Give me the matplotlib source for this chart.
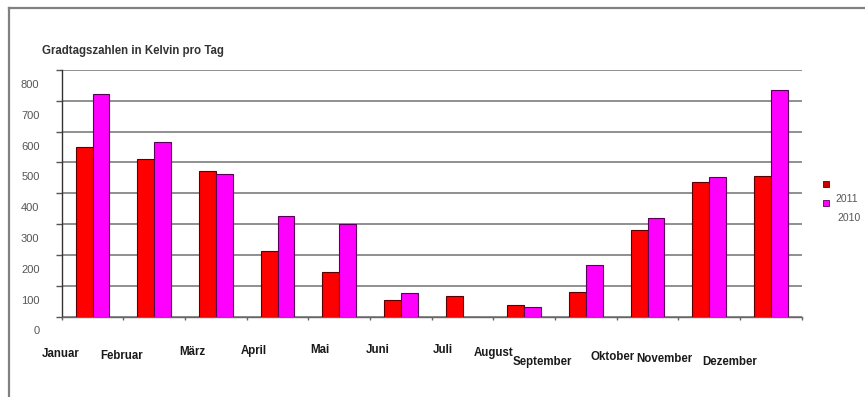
import numpy as np
import matplotlib
matplotlib.use("Agg")
import matplotlib.pyplot as plt
import matplotlib.transforms as mtransforms
from matplotlib.lines import Line2D
from matplotlib.patches import Rectangle

plt.rcParams['font.family'] = ['Liberation Sans', 'DejaVu Sans']

# data
months = ["Januar", "Februar", "März", "April", "Mai", "Juni", "Juli",
          "August", "September", "Oktober", "November", "Dezember"]
vals_2011 = [550, 512, 471, 211, 143, 54, 67, 36, 81, 281, 438, 457]
vals_2010 = [722, 565, 462, 325, 300, 76, 0, 32, 168, 320, 453, 734]
yticks = [0, 100, 200, 300, 400, 500, 600, 700, 800]

# label placement (category units relative to left boundary, pixel rows)
lab_dx = [-0.01, -0.03, 0.12, 0.12, 0.18, 0.13, 0.18, 0.0, -0.21, -0.06, -0.23, -0.17]
lab_y = [354, 356, 352, 351, 350, 350, 350, 353, 362, 357, 359, 362]

W, H = 865, 397
fig = plt.figure(figsize=(W/100, H/100), dpi=100)
ax = fig.add_axes([61.7/W, (H-316.5)/H, 740/W, 246.5/H])

x = np.arange(len(months))
bw = 0.275
ax.bar(x - bw/2, vals_2011, bw, color='#ff0000', edgecolor='#5a0000', linewidth=0.8, zorder=3)
ax.bar(x + bw/2, vals_2010, bw, color='#ff00ff', edgecolor='#5a005a', linewidth=0.8, zorder=3)

ax.set_xlim(-0.5, len(months) - 0.5)
ax.set_ylim(0, 800)
ax.set_yticks(yticks)
ax.yaxis.grid(True, color='#8f8f8f', linewidth=1.4, zorder=0)
ax.set_axisbelow(True)
for s in ['top', 'right']:
    ax.spines[s].set_visible(False)
ax.spines['left'].set_color('#333333')
ax.spines['bottom'].set_color('#666666')
ax.spines['left'].set_linewidth(1.0)
ax.spines['bottom'].set_linewidth(1.0)

# y labels sit a bit below their gridlines in the original
ax.set_yticklabels([str(v) for v in yticks], fontsize=8, color='#555555')
ax.tick_params(axis='y', length=4, width=1, color='#555555', pad=12)
off = mtransforms.ScaledTranslation(0, -0.14, fig.dpi_scale_trans)
for lab in ax.get_yticklabels():
    lab.set_transform(lab.get_transform() + off)

# ticks at category boundaries, month labels placed by hand
ax.set_xticks(np.arange(len(months) + 1) - 0.5)
ax.set_xticklabels([])
ax.tick_params(axis='x', length=2.5, width=1, color='#666666')
for i, m in enumerate(months):
    fx = ax.transData.transform((i - 0.5 + lab_dx[i], 0))[0] / W
    fig.text(fx, 1 - lab_y[i]/H, m, ha='center', va='center', fontsize=8.3,
             fontweight='bold', color='#1a1a1a')

fig.text(42/W, 1 - 50.7/H, "Gradtagszahlen in Kelvin pro Tag", ha='left', va='center',
         fontsize=8.3, fontweight='bold', color='#333333')

# odd legend as in the original
fig.patches.append(Rectangle((823/W, 1 - 187/H), 6/W, 6/H, transform=fig.transFigure,
                             facecolor='#cc0000', edgecolor='#5a0000', linewidth=0.6))
fig.patches.append(Rectangle((823/W, 1 - 206/H), 6/W, 6/H, transform=fig.transFigure,
                             facecolor='#ff00ff', edgecolor='#5a005a', linewidth=0.6))
fig.text(835/W, 1 - 199/H, "2011", ha='left', va='center', fontsize=7.5, color='#555555')
fig.text(837/W, 1 - 218/H, "2010", ha='left', va='center', fontsize=7.5, color='#555555')

# frame around the chart (left and top edges visible)
fig.add_artist(Line2D([9/W, 9/W], [0, 1 - 8/H], transform=fig.transFigure,
                      color='#808080', linewidth=1.6))
fig.add_artist(Line2D([9/W, 1], [1 - 8/H, 1 - 8/H], transform=fig.transFigure,
                      color='#808080', linewidth=1.6))

fig.savefig("out.png", dpi=100)
